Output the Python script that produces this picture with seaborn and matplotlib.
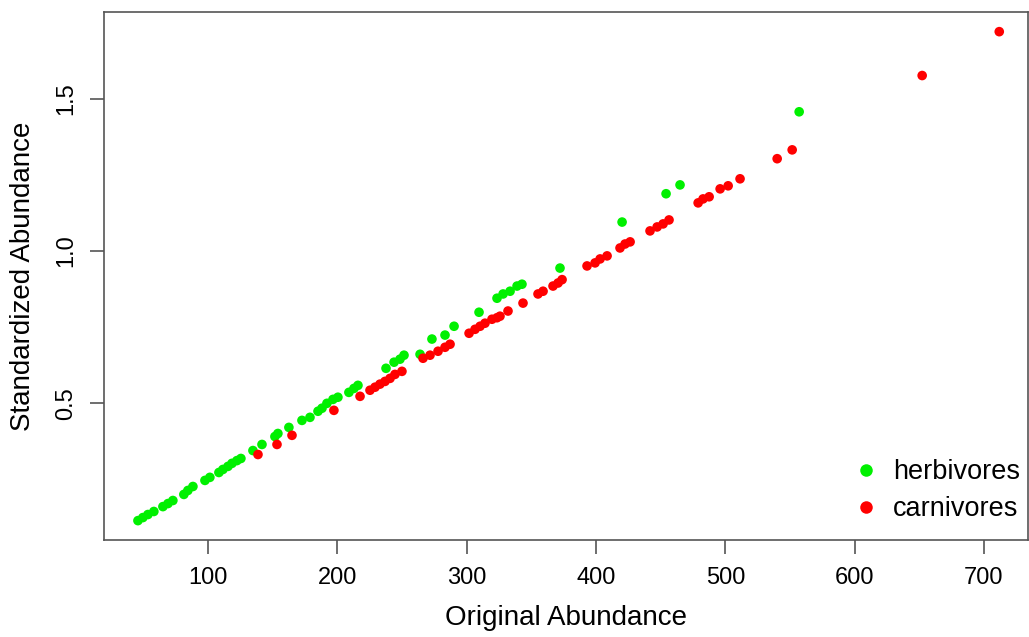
import pandas as pd
import matplotlib
matplotlib.use("Agg")
import matplotlib.pyplot as plt
import seaborn as sns

# values
herb_orig = [45.9, 49.7, 53.6, 58.2, 65.2, 69.1, 72.9, 81.4, 84.5, 88.4, 97.7, 101.5,
             108.5, 111.6, 115.5, 118.6, 122.4, 125.5, 134.8, 141.8, 151.8, 154.1,
             162.6, 172.7, 178.9, 185.1, 188.2, 192.0, 196.7, 200.5, 209.0, 212.9,
             216.0, 237.7, 243.9, 248.5, 251.6, 264.0, 273.2, 283.3, 290.3, 309.6,
             323.5, 328.2, 333.6, 339.0, 342.8, 372.2, 420.2, 454.2, 465.0, 557.1]
herb_std = [0.115, 0.125, 0.135, 0.145, 0.161, 0.171, 0.181, 0.201, 0.214, 0.227, 0.247, 0.257,
            0.273, 0.283, 0.293, 0.303, 0.312, 0.319, 0.345, 0.365, 0.391, 0.401,
            0.421, 0.444, 0.454, 0.474, 0.484, 0.500, 0.513, 0.520, 0.536, 0.549,
            0.559, 0.615, 0.635, 0.645, 0.658, 0.661, 0.711, 0.724, 0.753, 0.799,
            0.845, 0.859, 0.868, 0.885, 0.891, 0.944, 1.095, 1.188, 1.217, 1.457]

carn_orig = [138.7, 153.4, 165.0, 197.4, 217.6, 225.3, 229.2, 233.0, 236.9, 240.8, 244.6, 250.0,
             266.3, 271.7, 277.9, 283.3, 287.2, 301.9, 306.5, 310.4, 314.2, 319.6, 323.5,
             325.8, 332.0, 343.6, 355.2, 359.1, 366.8, 370.7, 373.8, 393.1, 399.3, 403.2,
             408.6, 418.6, 422.5, 426.4, 441.8, 447.3, 451.9, 456.5, 479.0, 482.8, 487.5,
             496.0, 502.2, 511.4, 540.1, 551.7, 652.2, 711.8]
carn_std = [0.332, 0.365, 0.395, 0.477, 0.523, 0.543, 0.553, 0.563, 0.572, 0.582, 0.595, 0.605,
            0.648, 0.658, 0.671, 0.684, 0.694, 0.730, 0.743, 0.753, 0.763, 0.776, 0.781,
            0.786, 0.803, 0.829, 0.859, 0.868, 0.885, 0.895, 0.906, 0.951, 0.961, 0.974,
            0.984, 1.010, 1.023, 1.030, 1.066, 1.079, 1.089, 1.102, 1.158, 1.171, 1.178,
            1.204, 1.214, 1.237, 1.303, 1.332, 1.576, 1.720]

groups = ["herbivores", "carnivores"]
colors = {"herbivores": "#00f000", "carnivores": "#ff0000"}

df = pd.concat([
    pd.DataFrame({"orig": herb_orig, "std": herb_std, "group": groups[0]}),
    pd.DataFrame({"orig": carn_orig, "std": carn_std, "group": groups[1]}),
])

sns.set_style("ticks")
plt.rcParams["font.family"] = ["Liberation Sans", "DejaVu Sans"]

fig = plt.figure(figsize=(10.29, 6.37), dpi=100)
ax = fig.add_axes([0.101, 0.152, 0.898, 0.829])

sns.scatterplot(data=df, x="orig", y="std", hue="group", hue_order=groups,
                palette=colors, s=48, linewidth=0, ax=ax)

# R-like padding around the data
ax.set_xlim(19.6, 734)
ax.margins(y=0.04)
ax.set_xticks([100, 200, 300, 400, 500, 600, 700])
ax.set_yticks([0.5, 1.0, 1.5])
ax.set_yticklabels(["0.5", "1.0", "1.5"], rotation=90, va="center")
ax.tick_params(axis="both", labelsize=17, length=10, width=1.2, color="#555555",
               labelcolor="black", pad=9)
ax.set_xlabel("Original Abundance", fontsize=20, labelpad=12, color="black")
ax.set_ylabel("Standardized Abundance", fontsize=20, labelpad=14, color="black")
for sp in ax.spines.values():
    sp.set_visible(True)
    sp.set_color("#555555")
    sp.set_linewidth(1.2)

leg = ax.legend(loc="lower right", bbox_to_anchor=(1.0, 10 / 528), frameon=False,
                fontsize=19.5, markerscale=1.3, handlelength=1.4, handletextpad=0.3,
                labelspacing=0.4, borderaxespad=0, borderpad=0.3)
for t in leg.get_texts():
    t.set_color("black")

fig.savefig("out.png", dpi=100)
